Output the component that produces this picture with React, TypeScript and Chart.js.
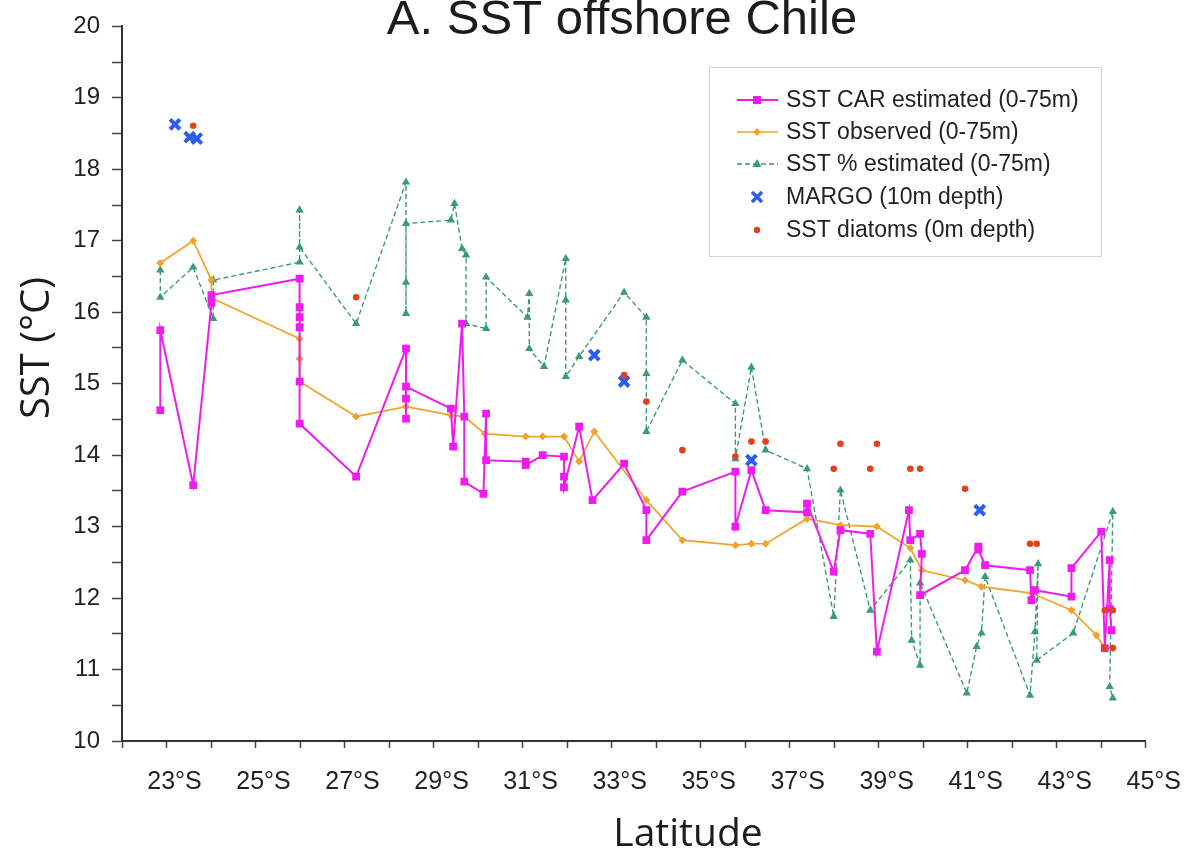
import React, { useEffect, useRef } from 'react';
import { Chart, registerables } from 'chart.js';

Chart.register(...registerables);

type P = [number, number];

// [latitude °S, SST °C]
const carEstimated: P[] = [
  [22.86, 14.63], [22.86, 15.75], [23.6, 13.58], [24.01, 16.13], [24.01, 16.24],
  [25.99, 16.47], [25.99, 16.07], [25.99, 15.93], [25.99, 15.79], [25.99, 15.03], [25.99, 14.44],
  [27.26, 13.7], [28.38, 15.49], [28.38, 14.51], [28.38, 14.79], [28.38, 14.96],
  [29.39, 14.65], [29.44, 14.12], [29.64, 15.84], [29.69, 14.54], [29.69, 13.63],
  [30.12, 13.46], [30.18, 14.58], [30.18, 13.93], [31.07, 13.91], [31.07, 13.86],
  [31.45, 14.0], [31.93, 13.98], [31.93, 13.7], [31.93, 13.55], [32.27, 14.4], [32.57, 13.37],
  [33.28, 13.88], [33.78, 13.23], [33.78, 12.81], [34.59, 13.49], [35.78, 13.77], [35.78, 13.0],
  [36.14, 13.79], [36.46, 13.23], [37.39, 13.2], [37.39, 13.32], [37.99, 12.37], [38.14, 12.95],
  [38.81, 12.9], [38.96, 11.25], [39.68, 13.23], [39.71, 12.81], [39.93, 12.9], [39.97, 12.62],
  [39.93, 12.04], [40.94, 12.39], [41.24, 12.72], [41.24, 12.68], [41.39, 12.46], [42.4, 12.39],
  [42.43, 11.97], [42.51, 12.11], [43.33, 12.02], [43.33, 12.42], [44.0, 12.93], [44.08, 11.3],
  [44.19, 12.53], [44.19, 11.85], [44.23, 11.55],
];

const observed: P[] = [
  [22.86, 16.69], [23.6, 17.0], [24.01, 16.45], [24.01, 16.2], [25.99, 15.63], [25.99, 15.35],
  [25.99, 15.03], [27.26, 14.54], [28.38, 14.68], [29.39, 14.56], [29.69, 14.54], [30.15, 14.3],
  [31.07, 14.26], [31.45, 14.26], [31.93, 14.26], [32.27, 13.91], [32.61, 14.33], [33.78, 13.37],
  [34.59, 12.81], [35.78, 12.74], [36.14, 12.76], [36.46, 12.76], [37.39, 13.11], [38.14, 13.02],
  [38.96, 13.0], [39.71, 12.7], [39.97, 12.39], [40.94, 12.25], [41.31, 12.16], [42.43, 12.07],
  [43.33, 11.83], [43.89, 11.48], [44.08, 11.3], [44.26, 11.3],
];

const pctEstimated: P[] = [
  [22.86, 16.59], [22.86, 16.21], [23.6, 16.63], [24.05, 15.91], [24.05, 16.45], [25.99, 16.7],
  [25.99, 17.43], [25.99, 16.91], [27.26, 15.84], [28.38, 17.82], [28.38, 16.42], [28.38, 15.98],
  [28.38, 17.24], [29.39, 17.29], [29.47, 17.52], [29.64, 16.89], [29.73, 16.8], [29.73, 15.84],
  [30.18, 15.77], [30.18, 16.49], [31.11, 15.93], [31.15, 16.26], [31.15, 15.49], [31.48, 15.24],
  [31.97, 16.75], [31.97, 16.17], [31.97, 15.1], [32.27, 15.38], [33.28, 16.28], [33.78, 15.93],
  [33.78, 15.14], [33.78, 14.33], [34.59, 15.33], [35.78, 14.72], [35.78, 13.95], [36.14, 15.23],
  [36.46, 14.07], [37.39, 13.81], [37.99, 11.74], [38.14, 13.51], [38.81, 11.83], [39.71, 12.53],
  [39.74, 11.41], [39.93, 11.06], [39.93, 12.21], [40.98, 10.67], [41.2, 11.32], [41.31, 11.51],
  [41.39, 12.3], [42.4, 10.64], [42.51, 11.53], [42.58, 12.48], [42.55, 11.13], [43.37, 11.51],
  [44.26, 13.21], [44.19, 10.76], [44.26, 10.6],
];

const margo: P[] = [
  [23.19, 18.63], [23.52, 18.45], [23.68, 18.43], [32.61, 15.4], [33.28, 15.03], [36.14, 13.93], [41.27, 13.23],
];

const diatoms: P[] = [
  [23.6, 18.61], [27.26, 16.21], [33.28, 15.12], [33.78, 14.75], [34.59, 14.07], [35.78, 13.98],
  [36.14, 14.19], [36.46, 14.19], [37.99, 13.81], [38.14, 14.16], [38.81, 13.81], [38.96, 14.16],
  [39.71, 13.81], [39.93, 13.81], [40.94, 13.53], [42.4, 12.76], [42.55, 12.76], [44.08, 11.83],
  [44.26, 11.83], [44.08, 11.3], [44.26, 11.3],
];

const seriesLabels = [
  'SST CAR estimated (0-75m)',
  'SST observed (0-75m)',
  'SST % estimated (0-75m)',
  'MARGO (10m depth)',
  'SST diatoms (0m depth)',
];

const titleText = 'A. SST offshore Chile';
const xTitle = 'Latitude';
const yTitle = 'SST (°C)';

const C_MAG = '#ee1cee';
const C_ORG = '#f0a22a';
const C_GRN = '#3a9a7a';
const C_BLU = '#2f5cf0';
const C_RED = '#e0421c';

const toXY = (a: P[]) => a.map(([x, y]) => ({ x, y }));

function drawMarker(c: CanvasRenderingContext2D, kind: string, x: number, y: number, color: string) {
  c.save();
  c.fillStyle = color;
  c.strokeStyle = color;
  if (kind === 'rect') {
    c.fillRect(x - 4, y - 4, 8, 8);
  } else if (kind === 'diamond') {
    c.beginPath();
    c.moveTo(x, y - 4); c.lineTo(x + 4, y); c.lineTo(x, y + 4); c.lineTo(x - 4, y);
    c.closePath(); c.fill();
  } else if (kind === 'triangle') {
    c.beginPath();
    c.moveTo(x, y - 5); c.lineTo(x + 4.5, y + 3); c.lineTo(x - 4.5, y + 3);
    c.closePath(); c.fill();
  } else if (kind === 'cross') {
    c.lineWidth = 3.5;
    c.beginPath();
    c.moveTo(x - 5, y - 5); c.lineTo(x + 5, y + 5);
    c.moveTo(x + 5, y - 5); c.lineTo(x - 5, y + 5);
    c.stroke();
  } else {
    c.beginPath(); c.arc(x, y, 3.2, 0, Math.PI * 2); c.fill();
  }
  c.restore();
}

const decor = {
  id: 'decor',
  afterDraw(chart: any) {
    const c: CanvasRenderingContext2D = chart.ctx;
    c.save();
    c.fillStyle = '#1c1c1c';
    c.textAlign = 'center';
    c.textBaseline = 'alphabetic';
    c.font = '49px "Liberation Sans", Arial, sans-serif';
    c.fillText(titleText, 622, 34);
    c.font = '39px "Open Sans", sans-serif';
    c.fillText(xTitle, 688, 846);
    c.save();
    c.translate(49, 348);
    c.rotate(-Math.PI / 2);
    c.font = '40px "Open Sans", sans-serif';
    c.fillText(yTitle, 0, 0);
    c.restore();

    // legend
    const bx = 709, by = 67, bw = 392, bh = 189;
    c.fillStyle = '#ffffff';
    c.fillRect(bx, by, bw, bh);
    c.strokeStyle = '#d4d4d4';
    c.lineWidth = 1;
    c.strokeRect(bx + 0.5, by + 0.5, bw, bh);
    const rows = [100, 132, 164, 197, 230];
    const styles = [
      { color: C_MAG, line: true, dash: [] as number[], width: 2, marker: 'rect' },
      { color: C_ORG, line: true, dash: [] as number[], width: 1.6, marker: 'diamond' },
      { color: C_GRN, line: true, dash: [5, 3], width: 1.4, marker: 'triangle' },
      { color: C_BLU, line: false, dash: [] as number[], width: 0, marker: 'cross' },
      { color: C_RED, line: false, dash: [] as number[], width: 0, marker: 'circle' },
    ];
    styles.forEach((s, i) => {
      const y = rows[i];
      if (s.line) {
        c.save();
        c.strokeStyle = s.color;
        c.lineWidth = s.width;
        c.setLineDash(s.dash);
        c.beginPath();
        c.moveTo(737, y);
        c.lineTo(778, y);
        c.stroke();
        c.restore();
      }
      drawMarker(c, s.marker, 757, y, s.color);
      c.fillStyle = '#222';
      c.textAlign = 'left';
      c.textBaseline = 'middle';
      c.font = '23px "Liberation Sans", Arial, sans-serif';
      c.fillText(seriesLabels[i], 786, y + 1);
    });
    c.restore();
  },
};

export default function App() {
  const ref = useRef<HTMLCanvasElement>(null);
  useEffect(() => {
    document.body.style.margin = '0';
    const canvas = ref.current;
    if (!canvas) return;
    const chart = new Chart(canvas, {
      type: 'scatter',
      data: {
        datasets: [
          {
            label: seriesLabels[4], data: toXY(diatoms), showLine: false,
            pointStyle: 'circle', pointRadius: 3.3, backgroundColor: C_RED, borderColor: C_RED, borderWidth: 0,
          },
          {
            label: seriesLabels[3], data: toXY(margo), showLine: false,
            pointStyle: 'crossRot', pointRadius: 7, backgroundColor: C_BLU, borderColor: C_BLU, borderWidth: 4,
          },
          {
            label: seriesLabels[0], data: toXY(carEstimated), showLine: true, tension: 0,
            borderColor: C_MAG, borderWidth: 2, backgroundColor: C_MAG,
            pointStyle: 'rect', pointRadius: 5.5, pointBorderWidth: 0, pointBackgroundColor: C_MAG,
          },
          {
            label: seriesLabels[1], data: toXY(observed), showLine: true, tension: 0,
            borderColor: C_ORG, borderWidth: 1.7, backgroundColor: C_ORG,
            pointStyle: 'rectRot', pointRadius: 4, pointBorderWidth: 0, pointBackgroundColor: C_ORG,
          },
          {
            label: seriesLabels[2], data: toXY(pctEstimated), showLine: true, tension: 0,
            borderColor: C_GRN, borderWidth: 1.4, borderDash: [5, 3], backgroundColor: C_GRN,
            pointStyle: 'triangle', pointRadius: 4.8, pointBorderWidth: 0, pointBackgroundColor: C_GRN,
          },
        ],
      } as any,
      options: {
        responsive: false,
        animation: false,
        devicePixelRatio: 1,
        layout: { padding: { top: 26, right: 45, left: 0, bottom: 0 } },
        plugins: {
          legend: { display: false },
          tooltip: { enabled: false },
          title: { display: false },
        },
        scales: {
          x: {
            type: 'linear',
            min: 22,
            max: 45,
            afterFit: (s: any) => { s.height = 111; },
            ticks: {
              stepSize: 1,
              autoSkip: false,
              maxRotation: 0,
              padding: 19,
              labelOffset: 8,
              color: '#222',
              font: { family: '"Liberation Sans", Arial, sans-serif', size: 25 },
              callback: (v: any) => (Math.round(Number(v)) % 2 === 1 ? `${v}°S` : ''),
            },
            grid: { drawOnChartArea: false, drawTicks: true, tickLength: 7, tickColor: '#444', tickWidth: 1.5 },
            border: { display: true, color: '#333', width: 2 },
          },
          y: {
            type: 'linear',
            min: 10,
            max: 20,
            afterFit: (s: any) => { s.width = 122; },
            ticks: {
              stepSize: 0.5,
              autoSkip: false,
              padding: 12,
              color: '#222',
              font: { family: '"Liberation Sans", Arial, sans-serif', size: 24 },
              callback: (v: any) => (Number.isInteger(Number(v)) ? String(v) : ''),
            },
            grid: { drawOnChartArea: false, drawTicks: true, tickLength: 10, tickColor: '#444', tickWidth: 1.5 },
            border: { display: true, color: '#333', width: 2 },
          },
        },
      } as any,
      plugins: [decor],
    });
    return () => chart.destroy();
  }, []);
  return (
    <canvas
      ref={ref}
      width={1192}
      height={852}
      style={{ display: 'block', width: 1192, height: 852 }}
    />
  );
}
